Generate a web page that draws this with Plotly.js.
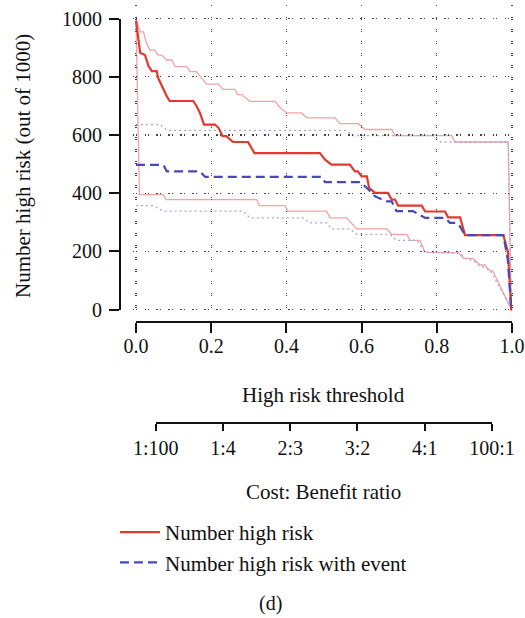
<!DOCTYPE html>
<html>
<head>
<meta charset="utf-8">
<script src="https://cdn.plot.ly/plotly-3.0.1.min.js"></script>
<style>html,body{margin:0;padding:0;background:#fff;}#chart{width:525px;height:618px;}</style>
</head>
<body>
<div id="chart"></div>
<script>
// ---- data ----
const thrNhr = [0, 0.011, 0.024, 0.033, 0.042, 0.055, 0.059, 0.073, 0.082, 0.09, 0.152, 0.161, 0.17, 0.181, 0.21, 0.22, 0.23, 0.24, 0.258, 0.298, 0.305, 0.315, 0.489, 0.503, 0.52, 0.569, 0.582, 0.59, 0.6, 0.614, 0.62, 0.636, 0.67, 0.68, 0.689, 0.697, 0.76, 0.769, 0.822, 0.83, 0.862, 0.875, 0.977, 0.989, 0.998, 1];
const nhr    = [993, 883, 875, 838, 820, 820, 796, 756, 733, 717, 717, 700, 676, 636, 636, 624, 596, 596, 576, 576, 561, 538, 538, 515, 498, 498, 475, 475, 458, 458, 418, 401, 401, 378, 378, 357, 357, 337, 337, 317, 317, 256, 256, 199, 0, 0];

const thrNhrHi = [0, 0.011, 0.02, 0.028, 0.037, 0.05, 0.059, 0.068, 0.082, 0.095, 0.104, 0.135, 0.144, 0.161, 0.175, 0.188, 0.219, 0.232, 0.263, 0.27, 0.281, 0.303, 0.37, 0.38, 0.4, 0.44, 0.454, 0.529, 0.543, 0.591, 0.609, 0.68, 0.689, 0.84, 0.848, 0.99, 0.998, 1];
const nhrHi    = [1000, 955, 955, 915, 892, 892, 875, 875, 858, 858, 835, 835, 818, 818, 795, 775, 775, 757, 757, 739, 739, 716, 716, 699, 676, 676, 659, 659, 639, 639, 619, 619, 598, 598, 576, 576, 0, 0];

const thrNhrLo = [0, 0.009, 0.073, 0.08, 0.321, 0.328, 0.396, 0.404, 0.507, 0.516, 0.56, 0.587, 0.667, 0.68, 0.72, 0.729, 0.755, 0.769, 0.857, 0.872, 0.896, 0.915, 0.928, 0.941, 0.949, 0.977, 0.998, 1];
const nhrLo    = [1000, 395, 395, 378, 378, 357, 357, 338, 338, 315, 315, 277, 277, 258, 258, 238, 238, 197, 195, 176, 176, 153, 153, 133, 133, 56, 0, 0];

const thrNhre = [0, 0.073, 0.082, 0.17, 0.184, 0.494, 0.503, 0.596, 0.614, 0.636, 0.665, 0.68, 0.693, 0.737, 0.769, 0.822, 0.835, 0.853, 0.862, 0.875, 0.977, 0.989, 0.998, 1];
const nhre    = [497, 497, 475, 475, 456, 456, 438, 438, 418, 389, 372, 372, 338, 338, 315, 315, 298, 298, 285, 256, 256, 170, 0, 0];

const thrNhreHi = [0, 0.064, 0.083, 0.56, 0.575, 0.79, 0.81, 0.99, 0.998, 1];
const nhreHi    = [636, 636, 616, 616, 598, 598, 576, 576, 0, 0];

const thrNhreLo = [0, 0.046, 0.073, 0.285, 0.303, 0.445, 0.463, 0.507, 0.52, 0.569, 0.587, 0.676, 0.693, 0.747, 0.769, 0.862, 0.88, 0.896, 0.915, 0.93, 0.945, 0.977, 0.998, 1];
const nhreLo    = [357, 357, 338, 338, 315, 315, 298, 298, 277, 277, 258, 258, 238, 238, 197, 193, 172, 170, 148, 145, 128, 52, 0, 0];

const xTickVals = [0, 0.2, 0.4, 0.6, 0.8, 1.0];
const xTickText = ['0.0', '0.2', '0.4', '0.6', '0.8', '1.0'];
const yTickVals = [0, 200, 400, 600, 800, 1000];
const yTickText = ['0', '200', '400', '600', '800', '1000'];
const cbTickVals = [0, 0.2, 0.4, 0.6, 0.8, 1.0];
const cbTickText = ['1:100', '1:4', '2:3', '3:2', '4:1', '100:1'];

const legendNames = ['Number high risk', 'Number high risk with event'];

// ---- layout geometry (pixels in a 525x618 page, margins 0 so paper == page) ----
const W = 525, H = 618;
const px = v => v / W;
const py = v => 1 - v / H;
const X0 = 136, X1 = 512;       // pixel of threshold 0 and 1
const Y0 = 309.5, Y1000 = 18.7; // pixel of 0 and 1000
const plotL = 132.7, plotR = 516.7, plotT = 5, plotB = 316.7;
const xs = (X1 - X0);
const ys = (Y0 - Y1000) / 1000;

const FONT = 'Liberation Serif, Times New Roman, serif';
const INK = '#111';
const RED = '#e5392f', PINK = '#f2a3a3', BLUE = '#4848b6', LBLUE = '#a4a7e6';

const traces = [
  {x: thrNhrHi, y: nhrHi, mode: 'lines', line: {color: PINK, width: 1.3}, showlegend: false, hoverinfo: 'skip'},
  {x: thrNhrLo, y: nhrLo, mode: 'lines', line: {color: PINK, width: 1.3}, showlegend: false, hoverinfo: 'skip'},
  {x: thrNhreHi, y: nhreHi, mode: 'lines', line: {color: LBLUE, width: 1.3, dash: '2px,3px'}, showlegend: false, hoverinfo: 'skip'},
  {x: thrNhreLo, y: nhreLo, mode: 'lines', line: {color: LBLUE, width: 1.3, dash: '2px,3px'}, showlegend: false, hoverinfo: 'skip'},
  {x: thrNhr, y: nhr, mode: 'lines', name: legendNames[0], line: {color: RED, width: 2.2}},
  {x: thrNhre, y: nhre, mode: 'lines', name: legendNames[1], line: {color: BLUE, width: 2.2, dash: '9px,5px'}},
  // axis-only carriers
  {x: [], y: [], xaxis: 'x2', yaxis: 'y', showlegend: false, hoverinfo: 'skip'},
  {x: [], y: [], xaxis: 'x', yaxis: 'y2', showlegend: false, hoverinfo: 'skip'},
  {x: [], y: [], xaxis: 'x3', yaxis: 'y', showlegend: false, hoverinfo: 'skip'}
];

const tickFont = {family: FONT, size: 20, color: INK};
const gridStyle = {showgrid: true, gridcolor: '#444', gridwidth: 1.2, griddash: '1.2px,10.8px', zeroline: false, showline: false, ticks: '', showticklabels: false, fixedrange: true};

const layout = {
  width: W, height: H,
  margin: {l: 0, r: 0, t: 0, b: 0, pad: 0},
  paper_bgcolor: '#fff', plot_bgcolor: 'rgba(0,0,0,0)',
  font: {family: FONT, size: 21, color: INK},
  showlegend: true,
  hovermode: false,
  xaxis: Object.assign({}, gridStyle, {
    domain: [px(plotL), px(plotR)],
    range: [(plotL - X0) / xs, (plotR - X0) / xs], autorange: false,
    tickmode: 'array', tickvals: xTickVals, anchor: 'y'
  }),
  yaxis: Object.assign({}, gridStyle, {
    domain: [py(plotB), py(plotT)],
    range: [(Y0 - plotB) / ys, (Y0 - plotT) / ys], autorange: false,
    tickmode: 'array', tickvals: yTickVals, anchor: 'x'
  }),
  xaxis2: {
    domain: [px(X0), px(X1)], range: [0, 1], autorange: false,
    anchor: 'free', position: py(322.3), side: 'bottom',
    showgrid: false, zeroline: false, showline: true, linecolor: INK, linewidth: 2,
    ticks: 'outside', ticklen: 10, tickwidth: 2, tickcolor: INK,
    tickmode: 'array', tickvals: xTickVals, ticktext: xTickText, tickfont: tickFont,
    ticklabelstandoff: -4,
    fixedrange: true
  },
  yaxis2: {
    domain: [py(Y0), py(Y1000)], range: [0, 1000], autorange: false,
    anchor: 'free', position: px(120), side: 'left',
    showgrid: false, zeroline: false, showline: true, linecolor: INK, linewidth: 2,
    ticks: 'outside', ticklen: 10, tickwidth: 2, tickcolor: INK,
    tickmode: 'array', tickvals: yTickVals, ticktext: yTickText, tickfont: tickFont,
    ticklabelstandoff: 3,
    fixedrange: true
  },
  xaxis3: {
    domain: [px(155.7), px(492)], range: [0, 1], autorange: false,
    anchor: 'free', position: py(423), side: 'bottom',
    showgrid: false, zeroline: false, showline: true, linecolor: INK, linewidth: 2,
    ticks: 'outside', ticklen: 7, tickwidth: 2, tickcolor: INK,
    tickmode: 'array', tickvals: cbTickVals, ticktext: cbTickText, tickfont: tickFont,
    fixedrange: true
  },
  legend: {
    x: px(115), y: py(512), xanchor: 'left', yanchor: 'top',
    bgcolor: 'rgba(0,0,0,0)', borderwidth: 0, itemwidth: 40,
    font: {family: FONT, size: 21, color: INK},
    traceorder: 'normal', tracegroupgap: 0
  },
  annotations: [
    {xref: 'paper', yref: 'paper', x: px(323), y: py(395), text: 'High risk threshold', showarrow: false, xanchor: 'center', yanchor: 'middle', font: {family: FONT, size: 21, color: INK}},
    {xref: 'paper', yref: 'paper', x: px(323), y: py(492), text: 'Cost: Benefit ratio', showarrow: false, xanchor: 'center', yanchor: 'middle', font: {family: FONT, size: 21, color: INK}},
    {xref: 'paper', yref: 'paper', x: px(23), y: py(166), text: 'Number high risk (out of 1000)', textangle: -90, showarrow: false, xanchor: 'center', yanchor: 'middle', font: {family: FONT, size: 21, color: INK}},
    {xref: 'paper', yref: 'paper', x: px(270), y: py(603), text: '(d)', showarrow: false, xanchor: 'center', yanchor: 'middle', font: {family: FONT, size: 20, color: INK}}
  ]
};

Plotly.newPlot('chart', traces, layout, {displayModeBar: false, staticPlot: true});
</script>
</body>
</html>
